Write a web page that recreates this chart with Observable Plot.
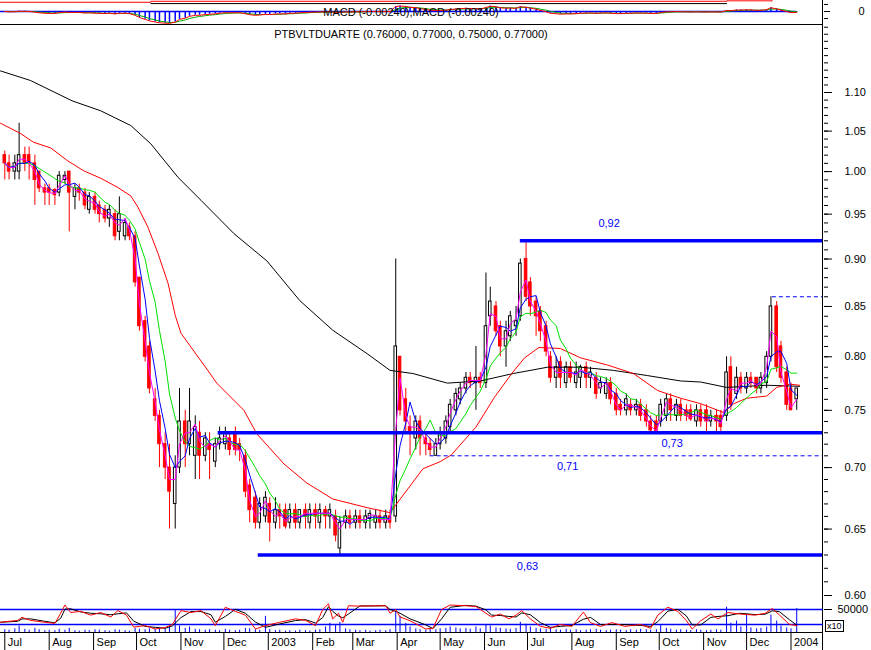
<!DOCTYPE html>
<html><head><meta charset="utf-8">
<script src="https://cdn.jsdelivr.net/npm/d3@7"></script>
<script src="https://cdn.jsdelivr.net/npm/@observablehq/plot@0.6"></script>
<style>
body{margin:0;background:#fff;}
#chart{position:relative;width:871px;height:650px;overflow:hidden;background:#fff;font-family:"Liberation Sans",Arial,sans-serif;}
.lbl{position:absolute;left:0;width:822px;text-align:center;font-size:11px;line-height:14px;color:#000;white-space:nowrap;}
#x10{position:absolute;left:825px;top:620px;font-size:9px;line-height:10px;border:1px solid #000;padding:0 1px;background:#fff;}
</style></head>
<body><div id="chart">
</div>
<script>
// ---------- DATA ----------
const dates = [
"2002-07-01","2002-07-04","2002-07-08","2002-07-11","2002-07-15","2002-07-18","2002-07-22","2002-07-25","2002-07-29",
"2002-08-01","2002-08-05","2002-08-08","2002-08-12","2002-08-15","2002-08-19","2002-08-22","2002-08-26","2002-08-29",
"2002-09-02","2002-09-05","2002-09-09","2002-09-12","2002-09-16","2002-09-19","2002-09-23","2002-09-26","2002-09-30",
"2002-10-03","2002-10-07","2002-10-10","2002-10-14","2002-10-17","2002-10-21","2002-10-24","2002-10-28","2002-10-31",
"2002-11-04","2002-11-07","2002-11-11","2002-11-14","2002-11-18","2002-11-21","2002-11-25","2002-11-28",
"2002-12-02","2002-12-05","2002-12-09","2002-12-12","2002-12-16","2002-12-19","2002-12-23","2002-12-26","2002-12-30",
"2003-01-02","2003-01-06","2003-01-09","2003-01-13","2003-01-16","2003-01-20","2003-01-23","2003-01-27","2003-01-30",
"2003-02-03","2003-02-06","2003-02-10","2003-02-13","2003-02-17","2003-02-20","2003-02-24","2003-02-27",
"2003-03-03","2003-03-06","2003-03-10","2003-03-13","2003-03-17","2003-03-20","2003-03-24","2003-03-27","2003-03-31",
"2003-04-03","2003-04-07","2003-04-10","2003-04-14","2003-04-17","2003-04-21","2003-04-24","2003-04-28",
"2003-05-01","2003-05-05","2003-05-08","2003-05-12","2003-05-15","2003-05-19","2003-05-22","2003-05-26","2003-05-29",
"2003-06-02","2003-06-05","2003-06-09","2003-06-12","2003-06-16","2003-06-19","2003-06-23","2003-06-26","2003-06-30",
"2003-07-03","2003-07-07","2003-07-10","2003-07-14","2003-07-17","2003-07-21","2003-07-24","2003-07-28","2003-07-31",
"2003-08-04","2003-08-07","2003-08-11","2003-08-14","2003-08-18","2003-08-21","2003-08-25","2003-08-28",
"2003-09-01","2003-09-04","2003-09-08","2003-09-11","2003-09-15","2003-09-18","2003-09-22","2003-09-25","2003-09-29",
"2003-10-02","2003-10-06","2003-10-09","2003-10-13","2003-10-16","2003-10-20","2003-10-23","2003-10-27","2003-10-30",
"2003-11-03","2003-11-06","2003-11-10","2003-11-13","2003-11-17","2003-11-20","2003-11-24","2003-11-27",
"2003-12-01","2003-12-04","2003-12-08","2003-12-11","2003-12-15","2003-12-18","2003-12-22","2003-12-25","2003-12-29",
"2004-01-01","2004-01-05"];

const opens = [
1.02,1.01,1.00,1.00,1.02,1.02,1.01,1.00,0.98,
0.98,0.978,0.975,0.99,1.00,0.97,0.98,0.975,0.955,
0.97,0.96,0.955,0.945,0.95,0.93,0.925,0.935,0.925,
0.88,0.835,0.81,0.76,0.745,0.72,0.70,0.67,0.70,
0.74,0.72,0.71,0.73,0.71,0.72,0.705,0.72,
0.72,0.725,0.73,0.72,0.71,0.685,0.675,0.655,0.66,
0.67,0.655,0.665,0.665,0.655,0.665,0.655,0.665,0.655,
0.665,0.655,0.665,0.66,0.66,0.635,0.655,0.66,
0.655,0.66,0.655,0.658,0.655,0.66,0.655,0.66,0.66,
0.80,0.76,0.735,0.725,0.74,0.725,0.72,0.71,
0.72,0.725,0.735,0.75,0.76,0.77,0.78,0.775,0.78,
0.775,0.84,0.85,0.83,0.81,0.82,0.83,0.84,0.90,
0.875,0.855,0.845,0.83,0.80,0.78,0.795,0.775,0.79,
0.775,0.78,0.79,0.78,0.78,0.77,0.765,0.775,
0.765,0.755,0.75,0.755,0.75,0.755,0.75,0.74,0.74,
0.74,0.745,0.76,0.745,0.755,0.75,0.75,0.74,0.75,
0.75,0.74,0.745,0.745,0.745,0.79,0.765,0.78,
0.77,0.78,0.78,0.77,0.775,0.80,0.85,0.81,0.785,
0.77,0.76];

const highs = [
1.025,1.02,1.02,1.06,1.03,1.03,1.02,1.00,0.985,
0.985,0.98,1.00,1.00,1.00,0.985,0.985,0.98,0.975,
0.975,0.965,0.96,0.96,0.955,0.97,0.945,0.94,0.93,
0.88,0.84,0.815,0.77,0.75,0.73,0.72,0.71,0.77,
0.75,0.77,0.745,0.74,0.73,0.73,0.725,0.735,
0.735,0.73,0.735,0.725,0.715,0.69,0.68,0.675,0.68,
0.675,0.675,0.67,0.67,0.67,0.67,0.665,0.67,0.67,
0.67,0.67,0.668,0.67,0.665,0.66,0.665,0.665,
0.665,0.665,0.665,0.665,0.665,0.665,0.665,0.665,0.90,
0.80,0.77,0.745,0.745,0.745,0.73,0.725,0.725,
0.735,0.745,0.76,0.77,0.775,0.785,0.785,0.81,0.785,
0.885,0.87,0.855,0.835,0.835,0.845,0.85,0.90,0.92,
0.88,0.86,0.85,0.835,0.805,0.80,0.80,0.795,0.795,
0.795,0.792,0.795,0.79,0.785,0.78,0.78,0.78,
0.77,0.76,0.765,0.76,0.76,0.76,0.755,0.745,0.745,
0.76,0.765,0.765,0.76,0.76,0.755,0.755,0.755,0.755,
0.755,0.75,0.75,0.75,0.80,0.80,0.79,0.785,
0.785,0.785,0.78,0.785,0.805,0.86,0.855,0.815,0.79,
0.775,0.77];

const lows = [
0.99,0.99,0.99,0.99,1.00,0.99,0.96,0.975,0.96,
0.96,0.96,0.97,0.985,0.93,0.955,0.965,0.955,0.95,
0.95,0.94,0.94,0.935,0.92,0.92,0.92,0.92,0.87,
0.825,0.795,0.765,0.74,0.70,0.69,0.65,0.65,0.695,
0.70,0.71,0.69,0.69,0.705,0.69,0.70,0.715,
0.715,0.71,0.71,0.705,0.675,0.655,0.65,0.65,0.655,
0.64,0.65,0.65,0.65,0.65,0.65,0.65,0.65,0.65,
0.65,0.65,0.65,0.65,0.64,0.63,0.65,0.65,
0.65,0.65,0.65,0.65,0.65,0.65,0.65,0.65,0.655,
0.745,0.73,0.71,0.715,0.71,0.71,0.71,0.71,
0.715,0.72,0.73,0.745,0.755,0.765,0.77,0.75,0.77,
0.77,0.83,0.82,0.80,0.79,0.815,0.82,0.835,0.855,
0.84,0.82,0.815,0.80,0.775,0.77,0.77,0.77,0.775,
0.77,0.77,0.77,0.77,0.76,0.765,0.76,0.755,
0.745,0.745,0.745,0.745,0.745,0.74,0.735,0.73,0.73,
0.735,0.74,0.74,0.74,0.74,0.74,0.74,0.735,0.735,
0.73,0.735,0.73,0.73,0.74,0.75,0.76,0.765,
0.765,0.77,0.765,0.765,0.77,0.795,0.785,0.775,0.75,
0.75,0.75];

const closes = [
1.01,1.00,1.01,1.02,1.01,1.01,0.99,0.98,0.975,
0.975,0.972,0.995,0.995,0.975,0.98,0.975,0.96,0.97,
0.955,0.95,0.945,0.955,0.925,0.95,0.94,0.925,0.875,
0.83,0.80,0.77,0.745,0.72,0.70,0.68,0.70,0.74,
0.72,0.74,0.735,0.71,0.725,0.715,0.72,0.725,
0.73,0.715,0.715,0.715,0.68,0.665,0.655,0.67,0.675,
0.655,0.665,0.66,0.652,0.665,0.655,0.665,0.66,0.665,
0.66,0.665,0.66,0.665,0.645,0.655,0.66,0.655,
0.66,0.655,0.66,0.662,0.66,0.655,0.66,0.655,0.81,
0.75,0.74,0.73,0.74,0.725,0.72,0.715,0.72,
0.73,0.74,0.755,0.765,0.77,0.78,0.775,0.78,0.775,
0.83,0.855,0.825,0.81,0.825,0.84,0.835,0.895,0.86,
0.85,0.84,0.825,0.805,0.78,0.79,0.78,0.79,0.78,
0.785,0.79,0.78,0.785,0.765,0.775,0.775,0.76,
0.75,0.75,0.76,0.75,0.755,0.745,0.74,0.732,0.731,
0.755,0.76,0.75,0.755,0.745,0.745,0.742,0.75,0.74,
0.74,0.745,0.74,0.735,0.785,0.755,0.78,0.77,
0.78,0.775,0.77,0.78,0.80,0.85,0.79,0.78,0.755,
0.75,0.77];

const volumes = [
6000,5000,8000,14000,7000,5000,9000,6000,4000,5000,
4000,7000,5000,9000,4000,3000,5000,4000,6000,5000,
4000,3000,6000,5000,4000,3000,9000,7000,6000,8000,
7000,9000,8000,12000,48000,14000,9000,12000,7000,6000,
5000,6000,5000,4000,7000,5000,4000,5000,9000,8000,
6000,5000,35000,6000,4000,5000,3000,4000,3000,5000,
4000,3000,5000,6000,12000,20000,15000,22000,8000,6000,
5000,4000,5000,3000,4000,5000,4000,6000,45000,35000,
20000,12000,8000,6000,5000,7000,6000,8000,9000,12000,
10000,8000,9000,7000,12000,8000,16000,14000,10000,9000,
8000,7000,9000,22000,18000,12000,9000,8000,7000,10000,
6000,5000,7000,5000,6000,4000,5000,6000,7000,5000,
4000,5000,6000,5000,4000,6000,5000,7000,6000,5000,
6000,15000,9000,7000,5000,6000,5000,4000,6000,5000,
4000,5000,6000,5000,55000,20000,25000,12000,40000,10000,
8000,9000,12000,38000,25000,14000,10000,8000,52000];

// long moving average (black) and medium moving average (red)
const blackMaDates = ["2002-06-28","2002-07-19","2002-08-17","2002-09-06","2002-09-27","2002-10-11","2002-10-30","2002-11-15","2002-12-08","2002-12-31","2003-01-23","2003-02-15","2003-03-11","2003-03-27","2003-04-12","2003-05-06","2003-05-29","2003-06-21","2003-07-15","2003-08-07","2003-08-30","2003-09-23","2003-10-16","2003-10-30","2003-11-17","2003-12-15","2004-01-07"];
const blackMaValues = [1.129,1.116,1.089,1.076,1.057,1.034,0.993,0.966,0.928,0.898,0.856,0.826,0.803,0.787,0.784,0.775,0.777,0.784,0.790,0.790,0.787,0.782,0.777,0.776,0.771,0.773,0.772];

const redMaDates = ["2002-06-28","2002-07-12","2002-07-21","2002-08-02","2002-08-14","2002-08-25","2002-09-06","2002-09-18","2002-09-27","2002-10-02","2002-10-09","2002-10-16","2002-10-23","2002-10-28","2002-11-01","2002-11-15","2002-11-26","2002-12-15","2002-12-24","2003-01-12","2003-01-28","2003-02-15","2003-03-11","2003-03-27","2003-04-19","2003-05-01","2003-05-09","2003-05-26","2003-06-08","2003-06-20","2003-06-29","2003-07-09","2003-07-24","2003-08-07","2003-08-26","2003-09-13","2003-09-30","2003-10-16","2003-10-30","2003-11-15","2003-11-22","2003-12-01","2003-12-15","2003-12-22","2003-12-31","2004-01-07"];
const redMaValues = [1.060,1.047,1.036,1.029,1.013,1.001,0.992,0.981,0.971,0.958,0.935,0.906,0.874,0.841,0.823,0.796,0.775,0.750,0.729,0.703,0.687,0.674,0.667,0.663,0.699,0.705,0.711,0.735,0.762,0.784,0.799,0.809,0.808,0.799,0.792,0.784,0.768,0.761,0.756,0.748,0.756,0.761,0.763,0.771,0.774,0.773];

// support / resistance levels
const levelValues = [0.92, 0.86, 0.73, 0.71, 0.63];
const levelStarts = ["2003-06-26","2003-12-19","2002-11-27","2003-04-24","2002-12-25"];
const levelDashed = [false, true, false, true, false];
const levelLabelTexts = ["0,92","0,73","0,71","0,63"];
const levelLabelDates = ["2003-08-27","2003-10-10","2003-07-29","2003-07-01"];
const levelLabelValues = [0.92, 0.73, 0.71, 0.63];

// oscillator (lower panel)
const oscDates = ["2002-06-28","2002-07-10","2002-07-13","2002-07-19","2002-07-29","2002-08-05","2002-08-09","2002-08-12","2002-08-16","2002-08-23","2002-08-30","2002-09-06","2002-09-13","2002-09-18","2002-09-24","2002-09-29","2002-10-07","2002-10-14","2002-10-21","2002-10-26","2002-11-01","2002-11-08","2002-11-15","2002-11-22","2002-11-25","2002-12-02","2002-12-09","2002-12-16","2002-12-23","2002-12-30","2003-01-09","2003-01-20","2003-01-27","2003-02-03","2003-02-08","2003-02-12","2003-02-15","2003-02-19","2003-02-22","2003-02-26","2003-03-06","2003-03-17","2003-03-24","2003-03-27","2003-03-31","2003-04-03","2003-04-10","2003-04-21","2003-04-26","2003-05-02","2003-05-08","2003-05-19","2003-05-26","2003-06-02","2003-06-06","2003-06-12","2003-06-18","2003-06-23","2003-06-27","2003-07-03","2003-07-10","2003-07-17","2003-07-24","2003-08-01","2003-08-09","2003-08-14","2003-08-21","2003-08-29","2003-09-07","2003-09-18","2003-09-25","2003-09-30","2003-10-07","2003-10-14","2003-10-20","2003-10-24","2003-10-30","2003-11-06","2003-11-11","2003-11-18","2003-11-26","2003-12-07","2003-12-14","2003-12-19","2003-12-24","2003-12-31","2004-01-05"];
const oscValues = [36,41,49,41,36,33,60,82,62,65,55,62,50,67,55,23,27,18,22,30,67,62,67,45,27,76,65,55,18,27,36,45,41,27,70,85,45,60,36,80,79,80,80,60,70,50,40,18,20,70,82,80,78,60,50,58,45,55,67,45,25,20,30,25,63,35,25,35,25,30,20,55,76,65,40,18,40,58,45,62,58,55,60,73,55,30,27];
const oscBands = [30, 70];

// MACD panel: clipped upper envelope lines at the top edge
const macdCapRedDates = ["2002-06-28","2002-10-11","2003-11-17","2003-12-19"];
const macdCapRedValues = [0.042,0.0465,0.0485,0.0485];
const macdCapBlackDates = ["2002-10-11","2003-11-17"];
const macdCapBlackValues = [0.036,0.036];

// axis labels
const priceTickLabels = [0.60,0.65,0.70,0.75,0.80,0.85,0.90,0.95,1.00,1.05,1.10];
const monthTicks = ["2002-07-01","2002-08-01","2002-09-01","2002-10-01","2002-11-01","2002-12-01","2003-01-01","2003-02-01","2003-03-01","2003-04-01","2003-05-01","2003-06-01","2003-07-01","2003-08-01","2003-09-01","2003-10-01","2003-11-01","2003-12-01","2004-01-01"];
const monthLabels = ["Jul","Aug","Sep","Oct","Nov","Dec","2003","Feb","Mar","Apr","May","Jun","Jul","Aug","Sep","Oct","Nov","Dec","2004"];
const titleText = "PTBVLTDUARTE (0.76000, 0.77000, 0.75000, 0.77000)";
const macdText = "MACD (-0.00240),MACD (-0.00240)";

// ---------- BUILD ----------
const parse = d3.utcParse("%Y-%m-%d");
const DAY = 864e5;
const X0 = parse("2002-06-28"), X1 = parse("2004-01-23");
const candles = dates.map((d, i) => ({date: parse(d), open: opens[i], high: highs[i], low: lows[i], close: closes[i], volume: volumes[i]}));
const blackMa = blackMaDates.map((d, i) => ({date: parse(d), value: blackMaValues[i]}));
const redMa = redMaDates.map((d, i) => ({date: parse(d), value: redMaValues[i]}));
const levels = levelValues.map((v, i) => ({value: v, start: parse(levelStarts[i]), dashed: levelDashed[i]}));
const levelLabels = levelLabelTexts.map((t, i) => ({text: t, date: parse(levelLabelDates[i]), value: levelLabelValues[i]}));
const osc = oscDates.map((d, i) => ({date: parse(d), value: oscValues[i]}));
const capRed = macdCapRedDates.map((d, i) => ({date: parse(d), value: macdCapRedValues[i]}));
const capBlack = macdCapBlackDates.map((d, i) => ({date: parse(d), value: macdCapBlackValues[i]}));
const months = monthTicks.map((d, i) => ({date: parse(d), label: monthLabels[i]}));

// MACD derived from closes (EMA difference)
function ema(values, k) { const a = 2 / (k + 1); let p = values[0]; return values.map(v => (p = p + a * (v - p))); }
const eFast = ema(closes, 5), eSlow = ema(closes, 10);
const macdLine = closes.map((_, i) => eFast[i] - eSlow[i]);
const sigLine = ema(macdLine, 4);
const macd = candles.map((c, i) => ({date: c.date, macd: macdLine[i], signal: sigLine[i]}));

const chart = document.getElementById("chart");
const W = 871, MR = 48;
const baseStyle = {background: "transparent", overflow: "visible", fontFamily: "'Liberation Sans', Arial, sans-serif", fontSize: "11px", color: "#000"};
const xOpt = {type: "utc", domain: [X0, X1], range: [0, 822], axis: null, label: null};
function layer(opts, top) {
  const svg = Plot.plot(Object.assign({width: W, marginLeft: 0, marginRight: MR, marginTop: 0, marginBottom: 0, style: baseStyle, x: xOpt, color: {type: "identity"}}, opts));
  svg.style.position = "absolute"; svg.style.left = "0px"; svg.style.top = (top || 0) + "px";
  svg.style.maxWidth = "none";
  chart.appendChild(svg);
  return svg;
}
const up = d => d.close >= d.open;
const BLUE = "#0000ff";

// chrome: panel separators and right axis line
layer({height: 650, y: {domain: [0, 650], range: [0, 650], axis: null},
  marks: [
    Plot.ruleY([24, 632], {stroke: "#000"}),
    Plot.ruleX([X1], {x: d => d, y1: 0, y2: 650, stroke: "#000"})
  ]});

// volume bars (lower panel)
layer({height: 650, y: {type: "linear", domain: [0, 50000], range: [632, 609], label: null},
  marks: [
    Plot.ruleX(candles, {x: "date", y1: 0, y2: "volume", stroke: BLUE, strokeWidth: 1}),
    Plot.axisY({ticks: [50000], anchor: "right", tickSize: 8, tickPadding: 6, tickFormat: d => String(d), label: null, fill: "#000"})
  ]});

// oscillator (lower panel)
layer({height: 650, y: {type: "linear", domain: [30, 70], range: [624, 609], axis: null},
  marks: [
    Plot.ruleY(oscBands, {stroke: BLUE, strokeWidth: 1.5}),
    Plot.line(osc, Plot.windowY({k: 2, anchor: "end"}, {x: "date", y: "value", stroke: "#000", strokeWidth: 1})),
    Plot.line(osc, {x: "date", y: "value", stroke: "#ff0000", strokeWidth: 1})
  ]});

// price panel
layer({height: 650, y: {type: "log", domain: [0.6, 1.1], range: [595, 92], label: null},
  marks: [
    Plot.ruleX(candles, {x: "date", y1: "low", y2: "high", stroke: d => up(d) ? "#000" : "#ff0000", strokeWidth: 1}),
    Plot.rect(candles, {x1: d => new Date(+d.date - 0.9 * DAY), x2: d => new Date(+d.date + 0.9 * DAY), y1: "open", y2: "close",
      fill: d => up(d) ? "#ffffff" : "#ff0000", stroke: d => up(d) ? "#000" : "#ff0000", strokeWidth: 1}),
    Plot.line(blackMa, {x: "date", y: "value", stroke: "#000", strokeWidth: 1}),
    Plot.line(redMa, {x: "date", y: "value", stroke: "#ff0000", strokeWidth: 1}),
    Plot.line(candles, Plot.windowY({k: 8, anchor: "end"}, {x: "date", y: "close", stroke: "#00e000", strokeWidth: 1})),
    Plot.line(candles, Plot.windowY({k: 4, anchor: "end"}, {x: "date", y: "close", stroke: BLUE, strokeWidth: 1})),
    Plot.line(candles, Plot.windowY({k: 2, anchor: "end"}, {x: "date", y: "close", stroke: "#ff00ff", strokeWidth: 1})),
    Plot.ruleY(levels.filter(d => !d.dashed), {y: "value", x1: "start", x2: () => X1, stroke: BLUE, strokeWidth: 3.5}),
    Plot.ruleY(levels.filter(d => d.dashed), {y: "value", x1: "start", x2: () => X1, stroke: BLUE, strokeWidth: 1, strokeDasharray: "4,3"}),
    Plot.text(levelLabels.filter(d => d.value > 0.9), {x: "date", y: "value", text: "text", dy: -17, fill: BLUE, fontSize: 11}),
    Plot.text(levelLabels.filter(d => d.value < 0.9), {x: "date", y: "value", text: "text", dy: 11, fill: BLUE, fontSize: 11}),
    Plot.axisY({ticks: d3.range(60, 120).map(v => v / 100), anchor: "right", tickSize: 4, tickFormat: () => "", label: null}),
    Plot.axisY({ticks: priceTickLabels, anchor: "right", tickSize: 8, tickPadding: 13, tickFormat: d3.format(".2f"), label: null, fill: "#000", fontSize: 11})
  ]});

// MACD panel (top)
layer({height: 24, y: {type: "linear", domain: [-0.05, 0.05], range: [22, 0], label: null},
  marks: [
    Plot.ruleX(macd, {x: "date", y1: 0, y2: "macd", stroke: BLUE, strokeWidth: 1.5, clip: true}),
    Plot.ruleY([0], {x1: () => X0, x2: () => candles[candles.length - 1].date, stroke: BLUE, strokeWidth: 1.5}),
    Plot.line(macd, {x: "date", y: "signal", stroke: "#00b000", strokeWidth: 1, clip: true}),
    Plot.line(macd, {x: "date", y: "macd", stroke: "#ff0000", strokeWidth: 1, clip: true}),
    Plot.line(capBlack, {x: "date", y: "value", stroke: "#000", strokeWidth: 1}),
    Plot.line(capRed, {x: "date", y: "value", stroke: "#ff0000", strokeWidth: 1, curve: "step-after"}),
    Plot.axisY({ticks: [0], anchor: "right", tickSize: 6, tickPadding: 29, tickFormat: () => "0", label: null, fill: "#000", fontSize: 11}),
    Plot.axisY({ticks: [0.032, -0.032], anchor: "right", tickSize: 4, tickFormat: () => "", label: null})
  ]}, 0);

// x axis strip
layer({height: 18, y: {domain: [0, 18], range: [0, 18], axis: null},
  marks: [
    Plot.ruleX(months, {x: "date", stroke: "#000"}),
    Plot.text(months, {x: "date", text: "label", textAnchor: "start", dx: 3, dy: 1, fill: "#000", fontSize: 11})
  ]}, 632);

// texts
const t1 = document.createElement("div"); t1.className = "lbl"; t1.style.top = "27px"; t1.textContent = titleText; chart.appendChild(t1);
const t2 = document.createElement("div"); t2.className = "lbl"; t2.style.top = "5px"; t2.textContent = macdText; chart.appendChild(t2);
const t3 = document.createElement("div"); t3.id = "x10"; t3.textContent = "x10"; chart.appendChild(t3);
</script>
</body></html>
